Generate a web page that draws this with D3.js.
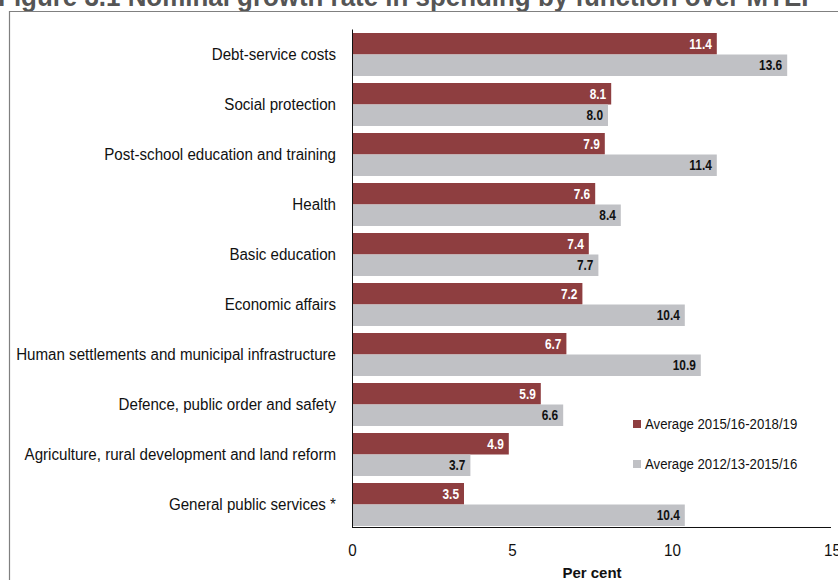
<!DOCTYPE html>
<html><head><meta charset="utf-8">
<script src="https://cdn.jsdelivr.net/npm/d3@7"></script>
<style>
body{margin:0;background:#fff;}
svg{display:block;}
text{font-family:"Liberation Sans",Arial,sans-serif;}
</style></head>
<body><svg id="c" width="838" height="580"></svg>
<script>
const categories = ["Debt-service costs","Social protection","Post-school education and training","Health","Basic education","Economic affairs","Human settlements and municipal infrastructure","Defence, public order and safety","Agriculture, rural development and land reform","General public services *"];
const seriesNames = ["Average 2015/16-2018/19","Average 2012/13-2015/16"];
const recent = [11.4,8.1,7.9,7.6,7.4,7.2,6.7,5.9,4.9,3.5];
const earlier = [13.6,8.0,11.4,8.4,7.7,10.4,10.9,6.6,3.7,10.4];
const xTicks = [0,5,10,15];
const colors = ["#8e3e40","#c0c1c5"];

const svg = d3.select("#c");
const pL = 352, pR = 832, pT = 29.5, pB = 529.5;

svg.append("text").attr("x",-2).attr("y",6).attr("font-size",27).attr("font-weight","bold")
  .attr("fill","#555").attr("transform","scale(0.96,1)")
  .text("Figure 3.1 Nominal growth rate in spending by function over MTEF");

svg.append("path").attr("d","M9.5,580 V11.5 H838").attr("fill","none").attr("stroke","#808080").attr("stroke-width",1.2);

const x = d3.scaleLinear().domain([0,15]).range([pL,pR]);
const y = d3.scaleBand().domain(categories).range([pT,pB]).paddingInner(0.14).paddingOuter(0.07);
const y1 = d3.scaleBand().domain([0,1]).range([0,y.bandwidth()]);

const data = categories.map((c,i)=>({c, vals:[recent[i],earlier[i]]}));
const g = svg.append("g");
const grp = g.selectAll("g").data(data).join("g").attr("transform",d=>`translate(0,${y(d.c)})`);
grp.selectAll("rect").data(d=>d.vals.map((v,k)=>({v,k}))).join("rect")
  .attr("x",x(0)).attr("y",d=>y1(d.k)).attr("width",d=>x(d.v)-x(0)).attr("height",y1.bandwidth())
  .attr("fill",d=>colors[d.k]);
grp.selectAll("g.v").data(d=>d.vals.map((v,k)=>({v,k}))).join("g").attr("class","v")
  .attr("transform",d=>`translate(${x(d.v)-5},${y1(d.k)+y1.bandwidth()/2}) scale(0.82,1)`)
  .append("text").attr("dy","0.36em")
  .attr("text-anchor","end").attr("font-size",14.5).attr("font-weight","bold")
  .attr("fill",d=>d.k===0?"#fff":"#111").text(d=>d.v.toFixed(1));

// category labels
svg.append("g").selectAll("g").data(categories).join("g")
  .attr("transform",d=>`translate(${pL-16},${y(d)+y.bandwidth()/2}) scale(0.945,1)`)
  .append("text").attr("dy","0.36em")
  .attr("text-anchor","end").attr("font-size",16).attr("fill","#111").text(d=>d);

// axes lines
svg.append("line").attr("x1",pL+0.5).attr("x2",pL+0.5).attr("y1",pT).attr("y2",528).attr("stroke","#111");
svg.append("line").attr("x1",pL).attr("x2",x(15)-1).attr("y1",527.5).attr("y2",527.5).attr("stroke","#111");
const ax = svg.append("g").attr("transform","translate(0,528)")
  .call(d3.axisBottom(x).tickValues(xTicks).tickSize(0).tickPadding(17).tickFormat(d3.format("d")));
ax.select(".domain").remove();
ax.selectAll("text").attr("font-size",16).attr("fill","#111").style("font-family","'Liberation Sans',Arial,sans-serif")
  .attr("transform","scale(0.95,1)");

svg.append("text").attr("x",592).attr("y",578).attr("text-anchor","middle").attr("font-size",15)
  .attr("font-weight","bold").attr("fill","#111").text("Per cent");

// legend
const lg = svg.append("g").selectAll("g").data(seriesNames).join("g")
  .attr("transform",(d,i)=>`translate(633,${420+i*40})`);
lg.append("rect").attr("width",8).attr("height",8).attr("fill",(d,i)=>colors[i]);
lg.append("g").attr("transform","translate(12,4) scale(0.88,1)").append("text")
  .attr("dy","0.36em").attr("font-size",15).attr("fill","#111").text(d=>d);
</script></body></html>
